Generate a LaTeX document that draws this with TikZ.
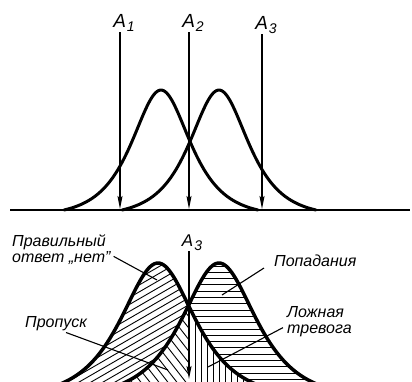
\documentclass[tikz,border=0pt]{standalone}
\usepackage{fontspec}
\setmainfont{Liberation Sans}
\usepackage{tikz}
\usetikzlibrary{arrows.meta,calc}
\newcommand{\idx}[1]{\kern1pt\raisebox{-4pt}{\fontsize{14}{14}\selectfont #1}}
\tikzset{
  declare function={
    sechf(\u)=2/(exp(\u)+exp(-\u));
    topcurve(\x,\c)=210-120*(sechf((\x-\c)/26)-0.048)/0.952;
    botcurve(\x,\c)=398-135*sechf((\x-\c)/33);
  },
  curve/.style={line width=3pt,line join=round,line cap=round},
  bcurve/.style={line width=3.5pt,line join=round,line cap=round},
  hatch/.style={line width=0.9pt},
  arrow/.style={-{Stealth[length=13pt,width=5pt,inset=2pt]},line width=1.1pt},
  lead/.style={line width=1.1pt},
  alab/.style={font=\fontsize{19}{19}\selectfont\itshape,inner sep=0pt,anchor=south},
  lbl/.style={font=\fontsize{16}{16.5}\selectfont\itshape,inner sep=0pt,align=left}
}
\begin{document}
\begin{tikzpicture}[x=1pt,y=-1pt]
  \useasboundingbox (0,0) rectangle (412,381);
  \clip (0,0) rectangle (412,381);

  % upper picture
  \draw[line width=1.5pt] (10,210) -- (410,210);
  \draw[curve] plot[domain=64:258,samples=120,smooth] (\x,{topcurve(\x,161)});
  \draw[curve] plot[domain=122:316,samples=120,smooth] (\x,{topcurve(\x,219)});

  \node[alab] (a1) at (124,32) {A\idx{1}};
  \node[alab] (a2) at (193,32) {A\idx{2}};
  \node[alab] (a3) at (266,34) {A\idx{3}};
  \coordinate (t1) at (120,209);
  \coordinate (t2) at (189,209);
  \coordinate (t3) at (262,209);
  \draw[arrow] (a1.south -| t1) -- (t1);
  \draw[arrow] (a2.south -| t2) -- (t2);
  \draw[arrow] (a3.south -| t3) -- (t3);

  % lower picture: hatching
  \begin{scope}
    \clip plot[domain=40:189,samples=80] (\x,{botcurve(\x,158)}) -- (189,400) -- (40,400) -- cycle;
    \clip plot[domain=40:189,samples=80] (\x,{botcurve(\x,219)}) -- (189,200) -- (40,200) -- cycle;
    \foreach \k in {-18,...,18} \draw[hatch] (\k*12,400) -- ++(400,-231);
  \end{scope}
  \begin{scope}
    \clip plot[domain=80:189,samples=60] (\x,{botcurve(\x,219)}) -- (189,400) -- (80,400) -- cycle;
    \foreach \k in {0,...,20} \draw[hatch] (20+\k*9,250) -- ++(130,167);
  \end{scope}
  \begin{scope}
    \clip plot[domain=189:340,samples=80] (\x,{botcurve(\x,219)}) -- (340,400) -- (189,400) -- cycle;
    \clip plot[domain=189:340,samples=80] (\x,{botcurve(\x,158)}) -- (340,200) -- (189,200) -- cycle;
    \foreach \y in {266,272.3,...,400} \draw[hatch] (185,\y) -- (345,\y);
  \end{scope}
  \begin{scope}
    \clip plot[domain=189:290,samples=60] (\x,{botcurve(\x,158)}) -- (290,400) -- (189,400) -- cycle;
    \foreach \x in {195,201,...,285} \draw[hatch] (\x,280) -- (\x,400);
  \end{scope}

  \draw[bcurve] plot[domain=50:275,samples=120,smooth] (\x,{botcurve(\x,158)});
  \draw[bcurve] plot[domain=105:330,samples=120,smooth] (\x,{botcurve(\x,219)});

  \node[alab,font=\fontsize{17}{17}\selectfont\itshape] (b3) at (192,251) {A\idx{3}};
  \coordinate (t4) at (189,379);
  \draw[arrow] (b3.south -| t4) -- (t4);

  % Labels
  \node[lbl,anchor=north west] (rej) at (12,234) {Правильный\\ответ „нет”};
  \node[lbl,anchor=base west] (hit) at (274,266) {Попадания};
  \node[lbl,anchor=base west] (miss) at (25,327) {Пропуск};
  \node[lbl,anchor=north west] (fa) at (287,306) {Ложная\\тревога};

  \coordinate (rejtip) at (157,280);
  \coordinate (hittip) at (222,295);
  \coordinate (misstip) at (168,370);
  \coordinate (fatip) at (208,367);
  \draw[lead] ([shift={(3pt,-7pt)}]rej.east) -- (rejtip);
  \draw[lead] ([shift={(-10pt,-2pt)}]hit.base west) -- (hittip);
  \draw[lead] ([shift={(10pt,-2pt)}]miss.south) -- (misstip);
  \draw[lead] ([shift={(-4pt,-6pt)}]fa.west) -- (fatip);
\end{tikzpicture}
\end{document}
